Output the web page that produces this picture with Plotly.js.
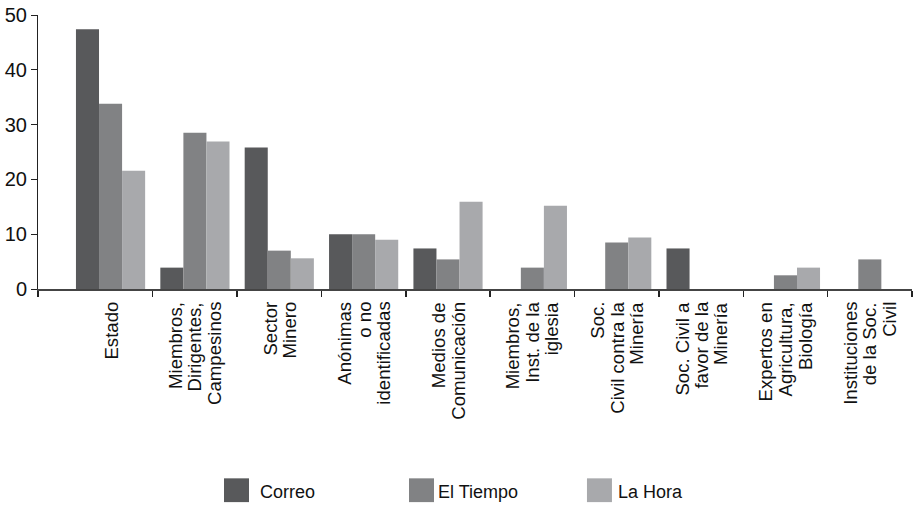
<!DOCTYPE html>
<html>
<head>
<meta charset="utf-8">
<script src="https://cdn.plot.ly/plotly-3.0.1.min.js"></script>
<style>html,body{margin:0;padding:0;background:#fff;}#chart{width:915px;height:507px;}</style>
</head>
<body>
<div id="chart"></div>
<script>
// ---- data ----
var categories = [
  "Estado",
  "Miembros,<br>Dirigentes,<br>Campesinos",
  "Sector<br>Minero",
  "Anónimas<br>o no<br>identificadas",
  "Medios de<br>Comunicación",
  "Miembros,<br>Inst. de la<br>iglesia",
  "Soc.<br>Civil contra la<br>Minería",
  "Soc. Civil a<br>favor de la<br>Minería",
  "Expertos en<br>Agricultura,<br>Biología",
  "Instituciones<br>de la Soc.<br>Civil"
];
var seriesNames = ["Correo", "El Tiempo", "La Hora"];
var correo   = [47.4, 3.9, 25.8, 10.0, 7.4, 0,    0,   7.4, 0,   0];
var elTiempo = [33.8, 28.5, 7.0, 10.0, 5.4, 3.9,  8.5, 0,   2.5, 5.4];
var laHora   = [21.6, 26.9, 5.6,  9.0, 15.9, 15.2, 9.4, 0,   3.9, 0];
var yTicks = [0, 10, 20, 30, 40, 50];

// ---- style ----
var colors = ["#58595b", "#818284", "#a8a9ac"];
var FONT = "Liberation Sans, Arial, Helvetica, sans-serif";
var idx = categories.map(function(_, i){ return i; });
var seriesVals = [correo, elTiempo, laHora];

var traces = seriesVals.map(function(vals, k){
  return {
    type: "bar", x: idx, y: vals, name: seriesNames[k],
    marker: {color: colors[k], line: {width: 0}},
    hoverinfo: "y+name", showlegend: false
  };
});

var xMin = -0.86, xMax = 9.5;
var bounds = [xMin];
for (var i = 0; i < categories.length; i++) bounds.push(i + 0.5);

var annotations = [];
categories.forEach(function(lab, i){
  var lines = lab.split("<br>");
  var n = lines.length;
  lines.forEach(function(t, j){
    annotations.push({
      x: i, xref: "x", y: 0, yref: "paper",
      xanchor: "center", yanchor: "top",
      xshift: (j - (n - 1) / 2) * 19.5, yshift: -11,
      textangle: -90, showarrow: false, text: t,
      font: {family: FONT, size: 18.6, color: "#111"}
    });
  });
});

// custom legend (large square swatches)
var shapes = [];
var legX = [0.2128, 0.4245, 0.6281];
var legTextX = [0.2517, 0.4554, 0.6613];
seriesNames.forEach(function(nm, k){
  shapes.push({type: "rect", xref: "paper", yref: "paper",
    x0: legX[k], x1: legX[k] + 0.0286, y0: -0.7778, y1: -0.691,
    fillcolor: colors[k], line: {width: 0}});
  annotations.push({x: legTextX[k], xref: "paper", y: -0.742, yref: "paper",
    xanchor: "left", yanchor: "middle", showarrow: false, text: nm,
    font: {family: FONT, size: 18, color: "#111"}});
});

var layout = {
  width: 915, height: 507,
  margin: {l: 38, r: 3, t: 15, b: 217.5},
  paper_bgcolor: "#fff", plot_bgcolor: "#fff",
  font: {family: FONT, color: "#111"},
  barmode: "group", bargap: 0.18, bargroupgap: 0,
  showlegend: false,
  xaxis: {
    range: [xMin, xMax], tickmode: "array", tickvals: bounds,
    showticklabels: false, ticks: "outside", ticklen: 6, tickwidth: 1.5, tickcolor: "#222",
    showline: true, linecolor: "#444", linewidth: 1.5,
    showgrid: false, zeroline: false, fixedrange: true
  },
  yaxis: {
    range: [0, 50], tickmode: "array", tickvals: yTicks,
    ticks: "outside", ticklen: 6, tickwidth: 1, tickcolor: "#222",
    showline: true, linecolor: "#222", linewidth: 1,
    showgrid: false, zeroline: false,
    tickfont: {family: FONT, size: 20, color: "#111"}, fixedrange: true
  },
  annotations: annotations,
  shapes: shapes
};

Plotly.newPlot("chart", traces, layout, {displayModeBar: false, staticPlot: true});
</script>
</body>
</html>
